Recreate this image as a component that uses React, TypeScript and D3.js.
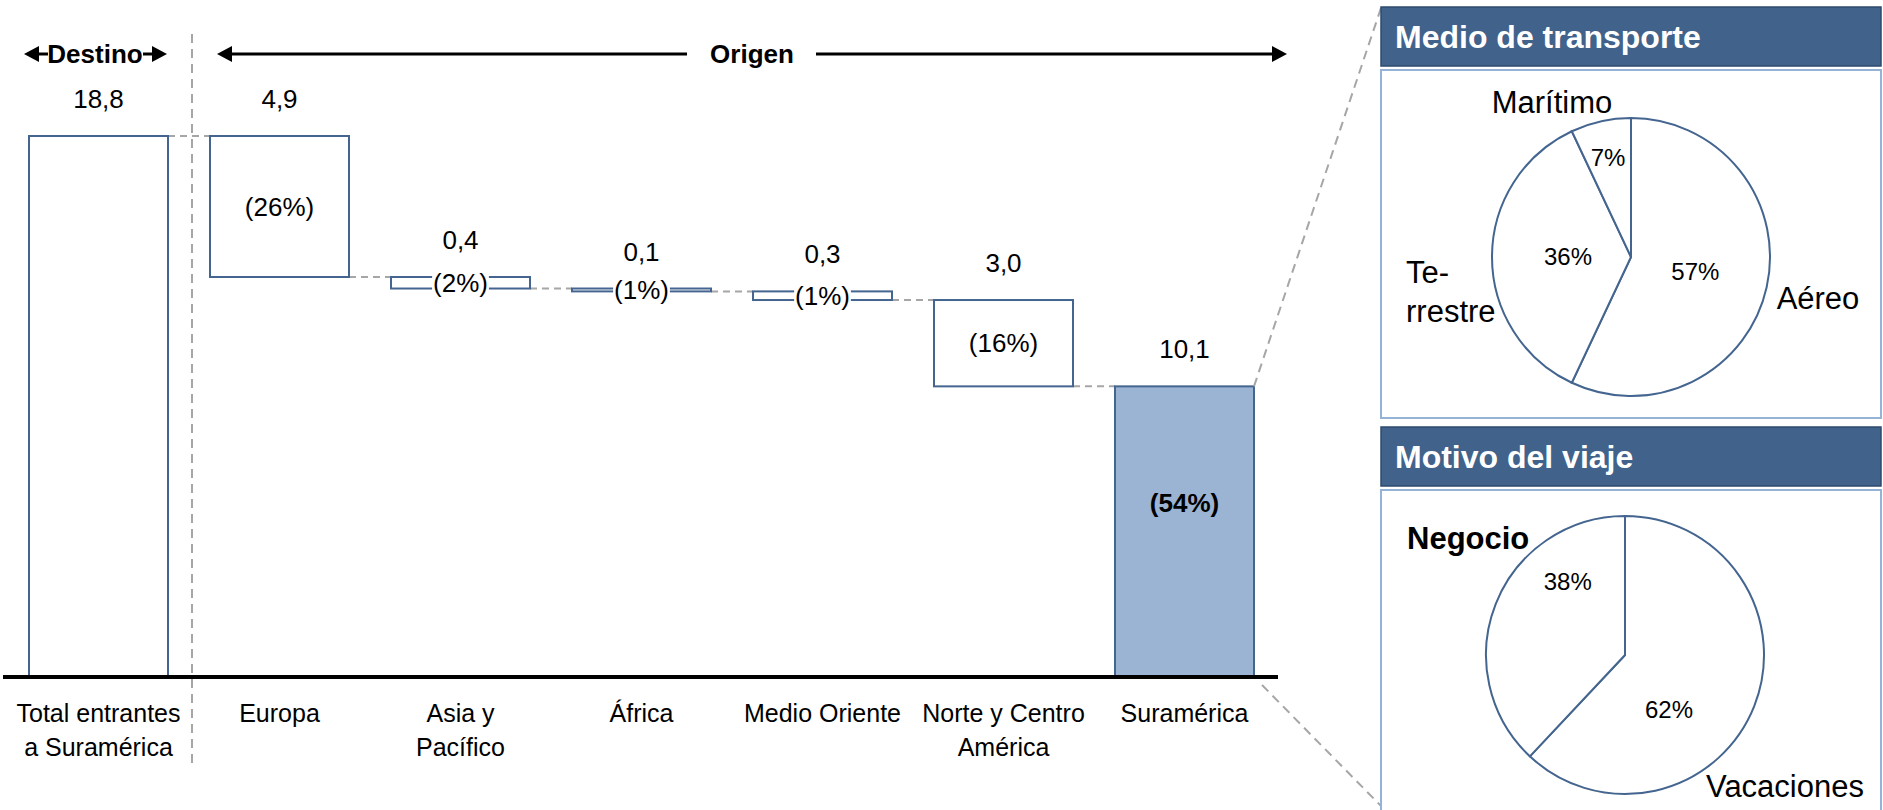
import * as d3 from 'd3';

// waterfall data
const categories = ['Total entrantes\na Suramérica', 'Europa', 'Asia y\nPacífico', 'África', 'Medio Oriente', 'Norte y Centro\nAmérica', 'Suramérica'];
const values = [18.8, 4.9, 0.4, 0.1, 0.3, 3.0, 10.1];
const shares = [null, 26, 2, 1, 1, 16, 54];

// pie data
const transportLabels = ['Aéreo', 'Terrestre', 'Marítimo'];
const transportValues = [57, 36, 7];
const motiveLabels = ['Vacaciones', 'Negocio'];
const motiveValues = [62, 38];

const FONT = '"Liberation Sans", Arial, sans-serif';
const STROKE = '#44658F';
const GREY = '#A6A6A6';

const locale = d3.formatLocale({ decimal: ',', thousands: '.', grouping: [3], currency: ['', ''] });
const fmt = locale.format('.1f');

const W = 1883;
const H = 810;

const x = d3.scaleBand<string>()
  .domain(categories)
  .range([8, 1275])
  .paddingInner(0.232)
  .paddingOuter(0.116);

const y = d3.scaleLinear()
  .domain([0, values[0]])
  .range([677, 136]);

// build the floating bars
interface Bar { cat: string; top: number; bottom: number; value: number; share: number | null; i: number }
const bars: Bar[] = [];
let running = values[0];
values.forEach((v, i) => {
  if (i === 0) {
    bars.push({ cat: categories[i], top: v, bottom: 0, value: v, share: shares[i], i });
  } else {
    bars.push({ cat: categories[i], top: running, bottom: Math.max(0, running - v), value: v, share: shares[i], i });
    running -= v;
  }
});

// panel layout
const panelX = 1381;
const panelW = 500;
const panels = [
  { title: 'Medio de transporte', headY: 7, bodyY: 70, bodyH: 348, cx: 1631, cy: 257 },
  { title: 'Motivo del viaje', headY: 427, bodyY: 490, bodyH: 330, cx: 1625, cy: 655 },
];
const R = 139;

// label placement inside pies (angle in degrees clockwise from top, radius)
const transportPct = [{ a: 103, r: 66 }, { a: 270, r: 63 }, { a: 347, r: 102 }];
const transportName = [
  { dx: 187, dy: 41, anchor: 'middle', bold: false, lines: ['Aéreo'] },
  { dx: -225, dy: 15, anchor: 'start', bold: false, lines: ['Te-', 'rrestre'] },
  { dx: -79, dy: -155, anchor: 'middle', bold: false, lines: ['Marítimo'] },
];
const motivePct = [{ a: 141, r: 70 }, { a: 322, r: 93 }];
const motiveName = [
  { dx: 81, dy: 131, anchor: 'start', bold: false, lines: ['Vacaciones'] },
  { dx: -218, dy: -117, anchor: 'start', bold: true, lines: ['Negocio'] },
];

function Pie({ cx, cy, vals, labels, pct, names }: any) {
  const arcs = d3.pie<number>().sort(null)(vals);
  const arc = d3.arc<d3.PieArcDatum<number>>().innerRadius(0).outerRadius(R);
  return (
    <g transform={`translate(${cx},${cy})`}>
      {arcs.map((a, i) => (
        <path key={labels[i]} d={arc(a) || ''} fill="#fff" stroke={STROKE} strokeWidth={2} />
      ))}
      {arcs.map((a, i) => {
        const rad = (pct[i].a * Math.PI) / 180;
        return (
          <text key={'p' + i} x={Math.sin(rad) * pct[i].r} y={-Math.cos(rad) * pct[i].r} dy="0.35em"
            textAnchor="middle" fontSize={24}>{Math.round(a.data)}%</text>
        );
      })}
      {names.map((n: any, i: number) => (
        <text key={'n' + i} x={n.dx} y={n.dy} textAnchor={n.anchor} fontSize={31}
          fontWeight={n.bold ? 'bold' : 'normal'}>
          {n.lines.map((l: string, j: number) => (
            <tspan key={j} x={n.dx} dy={j === 0 ? '0.35em' : 39}>{l}</tspan>
          ))}
        </text>
      ))}
    </g>
  );
}

function arrowHead(tipX: number, cy: number, dir: number) {
  const len = 15;
  const half = 8;
  return `${tipX},${cy} ${tipX - dir * len},${cy - half} ${tipX - dir * len},${cy + half}`;
}

export default function App() {
  const bw = x.bandwidth();
  const sura = bars[bars.length - 1];
  const suraRight = (x(sura.cat) as number) + bw;
  const headerY = 54;

  return (
    <div style={{ position: 'absolute', left: 0, top: 0 }}>
      <svg width={W} height={H} fontFamily={FONT} style={{ display: 'block', background: '#fff' }}>
        {/* header arrows */}
        <g>
          <line x1={30} x2={48} y1={headerY} y2={headerY} stroke="#000" strokeWidth={3} />
          <polygon points={arrowHead(24, headerY, -1)} fill="#000" />
          <text x={95} y={headerY} dy="0.35em" textAnchor="middle" fontSize={26} fontWeight="bold">Destino</text>
          <line x1={143} x2={160} y1={headerY} y2={headerY} stroke="#000" strokeWidth={3} />
          <polygon points={arrowHead(167, headerY, 1)} fill="#000" />

          <line x1={225} x2={687} y1={headerY} y2={headerY} stroke="#000" strokeWidth={3} />
          <polygon points={arrowHead(217, headerY, -1)} fill="#000" />
          <text x={752} y={headerY} dy="0.35em" textAnchor="middle" fontSize={26} fontWeight="bold">Origen</text>
          <line x1={816} x2={1280} y1={headerY} y2={headerY} stroke="#000" strokeWidth={3} />
          <polygon points={arrowHead(1287, headerY, 1)} fill="#000" />
        </g>

        {/* divider between destino and origen */}
        <line x1={192} x2={192} y1={34} y2={768} stroke={GREY} strokeWidth={2} strokeDasharray="9,6" />

        {/* connectors */}
        {bars.slice(0, -1).map((b, i) => {
          const next = bars[i + 1];
          return (
            <line key={'c' + i} x1={(x(b.cat) as number) + bw} x2={x(next.cat) as number}
              y1={y(next.top)} y2={y(next.top)} stroke={GREY} strokeWidth={2} strokeDasharray="7,5" />
          );
        })}

        {/* bars */}
        {bars.map((b) => (
          <rect key={b.cat} x={x(b.cat)} y={y(b.top)} width={bw} height={y(b.bottom) - y(b.top)}
            fill={b.i === bars.length - 1 ? '#9BB4D3' : '#fff'} stroke={STROKE} strokeWidth={2} />
        ))}

        {/* value labels */}
        {bars.map((b) => (
          <text key={'v' + b.cat} x={(x(b.cat) as number) + bw / 2} y={y(b.top) - 37} dy="0.35em"
            textAnchor="middle" fontSize={26}>{fmt(b.value)}</text>
        ))}

        {/* share labels */}
        {bars.filter((b) => b.share !== null).map((b) => {
          const last = b.i === bars.length - 1;
          const cx = (x(b.cat) as number) + bw / 2;
          const cy = (y(b.top) + y(b.bottom)) / 2 + (last ? -29 : 0);
          const label = `(${b.share}%)`;
          const tw = label.length * 14.2;
          return (
            <g key={'s' + b.cat}>
              {!last && <rect x={cx - tw / 2} y={cy - 13} width={tw} height={26} fill="#fff" />}
              <text x={cx} y={cy} dy="0.35em" textAnchor="middle" fontSize={26}
                fontWeight={last ? 'bold' : 'normal'}>{label}</text>
            </g>
          );
        })}

        {/* baseline */}
        <line x1={x.range()[0] - 5} x2={x.range()[1] + 3} y1={y(0)} y2={y(0)} stroke="#000" strokeWidth={4} />

        {/* category labels */}
        {categories.map((c) => (
          <text key={'l' + c} x={(x(c) as number) + bw / 2} y={713} textAnchor="middle" fontSize={25}>
            {c.split('\n').map((line, j) => (
              <tspan key={j} x={(x(c) as number) + bw / 2} dy={j === 0 ? '0.35em' : 34}>{line}</tspan>
            ))}
          </text>
        ))}

        {/* zoom lines to the panels */}
        <line x1={suraRight} y1={y(sura.top)} x2={panelX} y2={8} stroke={GREY} strokeWidth={2} strokeDasharray="9,6" />
        <line x1={suraRight + 8} y1={y(0) + 8} x2={panelX + 2} y2={808} stroke={GREY} strokeWidth={2} strokeDasharray="9,6" />

        {/* panels */}
        {panels.map((p) => (
          <g key={p.title}>
            <rect x={panelX} y={p.headY} width={panelW} height={59} fill="#41628B" stroke="#2E4A6D" strokeWidth={1.5} />
            <text x={1395} y={p.headY + 30} dy="0.35em" fill="#fff" fontSize={32} fontWeight="bold">{p.title}</text>
            <rect x={panelX} y={p.bodyY} width={panelW} height={p.bodyH} fill="#fff" stroke="#95B3D7" strokeWidth={2} />
          </g>
        ))}

        <Pie cx={panels[0].cx} cy={panels[0].cy} vals={transportValues} labels={transportLabels}
          pct={transportPct} names={transportName} />
        <Pie cx={panels[1].cx} cy={panels[1].cy} vals={motiveValues} labels={motiveLabels}
          pct={motivePct} names={motiveName} />
      </svg>
    </div>
  );
}
